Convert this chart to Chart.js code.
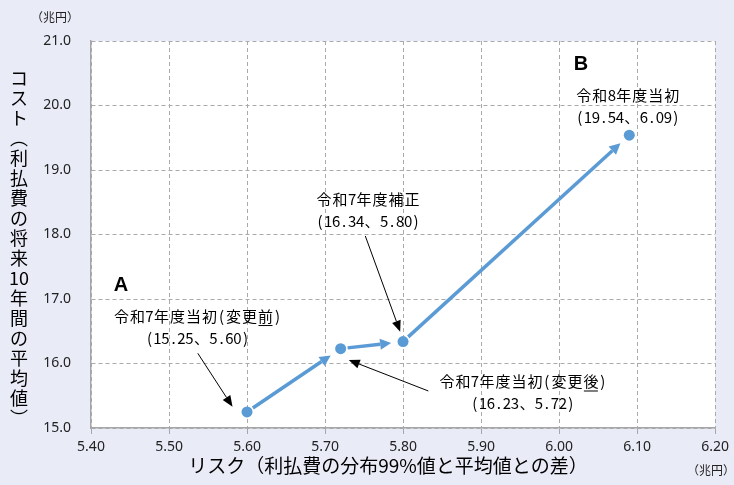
<!DOCTYPE html>
<html>
<head>
<meta charset="utf-8">
<script src="https://cdn.jsdelivr.net/npm/chart.js@4.4.1/dist/chart.umd.min.js"></script>
<style>
  html, body { margin: 0; padding: 0; background: #e9ebf7; }
  #wrap { width: 734px; height: 485px; }
</style>
</head>
<body>
<div id="wrap"><canvas id="c" width="734" height="485"></canvas></div>
<script>
// データ
const xTickLabels = ['5.40', '5.50', '5.60', '5.70', '5.80', '5.90', '6.00', '6.10', '6.20'];
const yTickLabels = ['15.0', '16.0', '17.0', '18.0', '19.0', '20.0', '21.0'];
const pointNames = ['令和7年度当初(変更前)', '令和7年度当初(変更後)', '令和7年度補正', '令和8年度当初'];
const riskValues = [5.60, 5.72, 5.80, 6.09];
const costValues = [15.25, 16.23, 16.34, 19.54];

const xTitle = 'リスク（利払費の分布99%値と平均値との差）';
const yTitle = 'コスト（利払費の将来10年間の平均値）';
const unitLabel = '（兆円）';

// 注記の位置（データ座標）
const notes = [
  { idx: 0, at: [5.5365, 16.736], from: [5.5369, 16.158], to: [5.5814, 15.330], underline: '前' },
  { idx: 1, at: [5.9536, 15.721], from: [5.8324, 15.574], to: [5.7304, 16.054], underline: '後' },
  { idx: 2, at: [5.7552, 18.550], from: [5.7516, 17.977], to: [5.7963, 16.493] },
  { idx: 3, at: [6.0881, 20.155] }
];
const groupMarks = [
  { text: 'A', at: [5.4383, 17.209] },
  { text: 'B', at: [6.028, 20.636] }
];

const BLUE = '#5b9bd5';
const JP = '"Noto Sans CJK JP", "Noto Sans", sans-serif';

// 等幅っぽく1文字ずつ描く（半角8px / 全角16px）
function drawMono(ctx, text, cx, cy, underlineChar) {
  const chars = Array.from(text);
  const adv = chars.map(ch => ch.charCodeAt(0) < 128 ? 8 : 16);
  const total = adv.reduce((a, b) => a + b, 0);
  let x = cx - total / 2;
  ctx.font = '15px ' + JP;
  ctx.textAlign = 'center';
  ctx.textBaseline = 'middle';
  ctx.fillStyle = '#000';
  chars.forEach((ch, i) => {
    ctx.fillText(ch, x + adv[i] / 2, cy);
    if (underlineChar && ch === underlineChar) {
      ctx.fillRect(x + 1, cy + 9, adv[i] - 2, 1);
    }
    x += adv[i];
  });
}

function arrow(ctx, x1, y1, x2, y2, color, width, headLen, headW) {
  const ang = Math.atan2(y2 - y1, x2 - x1);
  const bx = x2 - headLen * Math.cos(ang), by = y2 - headLen * Math.sin(ang);
  ctx.strokeStyle = color;
  ctx.fillStyle = color;
  ctx.lineWidth = width;
  ctx.setLineDash([]);
  ctx.beginPath();
  ctx.moveTo(x1, y1);
  ctx.lineTo(bx, by);
  ctx.stroke();
  ctx.beginPath();
  ctx.moveTo(x2, y2);
  ctx.lineTo(bx + headW / 2 * Math.sin(ang), by - headW / 2 * Math.cos(ang));
  ctx.lineTo(bx - headW / 2 * Math.sin(ang), by + headW / 2 * Math.cos(ang));
  ctx.closePath();
  ctx.fill();
}

const decorPlugin = {
  id: 'decor',
  beforeDraw(chart) {
    const { ctx, chartArea: a } = chart;
    ctx.save();
    ctx.fillStyle = '#e9ebf7';
    ctx.fillRect(0, 0, chart.width, chart.height);
    ctx.fillStyle = '#ffffff';
    ctx.fillRect(a.left, a.top, a.right - a.left, a.bottom - a.top);
    ctx.restore();
  },
  beforeDatasetsDraw(chart) {
    // 点と点を結ぶ青い矢印
    const { ctx, scales: { x, y } } = chart;
    ctx.save();
    for (let i = 0; i < riskValues.length - 1; i++) {
      const x1 = x.getPixelForValue(riskValues[i]), y1 = y.getPixelForValue(costValues[i]);
      const x2 = x.getPixelForValue(riskValues[i + 1]), y2 = y.getPixelForValue(costValues[i + 1]);
      const len = Math.hypot(x2 - x1, y2 - y1);
      const ux = (x2 - x1) / len, uy = (y2 - y1) / len;
      arrow(ctx, x1 + ux * 7, y1 + uy * 7, x2 - ux * 12, y2 - uy * 12, BLUE, 3.5, 11, 11);
    }
    ctx.restore();
  },
  afterDraw(chart) {
    const { ctx, scales: { x, y } } = chart;
    ctx.save();
    // 注記
    notes.forEach(n => {
      const cx = x.getPixelForValue(n.at[0]), cy = y.getPixelForValue(n.at[1]);
      drawMono(ctx, pointNames[n.idx], cx, cy, n.underline);
      const sub = '(' + costValues[n.idx].toFixed(2) + '、' + riskValues[n.idx].toFixed(2) + ')';
      drawMono(ctx, sub, cx, cy + 22);
      if (n.from) {
        arrow(ctx, x.getPixelForValue(n.from[0]), y.getPixelForValue(n.from[1]),
          x.getPixelForValue(n.to[0]), y.getPixelForValue(n.to[1]), '#000', 1, 11, 9);
      }
    });
    groupMarks.forEach(g => {
      ctx.font = 'bold 20px "Liberation Sans", Arial, sans-serif';
      ctx.fillStyle = '#000';
      ctx.textAlign = 'center';
      ctx.textBaseline = 'middle';
      ctx.fillText(g.text, x.getPixelForValue(g.at[0]), y.getPixelForValue(g.at[1]));
    });

    // 軸タイトル
    ctx.fillStyle = '#000';
    ctx.font = '19px ' + JP;
    ctx.textAlign = 'center';
    ctx.textBaseline = 'middle';
    ctx.fillText(xTitle, 388, 466);

    const vChars = yTitle.replace('（', '︵').replace('）', '︶').match(/\d+|./g);
    ctx.font = '18px ' + JP;
    vChars.forEach((ch, i) => {
      ctx.fillText(ch, 19, 78 + i * 20);
    });

    ctx.font = '12px ' + JP;
    ctx.fillStyle = '#222';
    ctx.fillText(unitLabel, 55, 17);
    ctx.fillText(unitLabel, 711, 470);
    ctx.restore();
  }
};

const gridDash = [4, 3];

new Chart(document.getElementById('c'), {
  type: 'scatter',
  data: {
    datasets: [{
      data: riskValues.map((r, i) => ({ x: r, y: costValues[i] })),
      backgroundColor: BLUE,
      borderColor: BLUE,
      pointRadius: 5.5,
      pointHoverRadius: 5.5,
      pointBorderWidth: 0,
      showLine: false
    }]
  },
  options: {
    responsive: false,
    animation: false,
    layout: { padding: { left: 0, top: 41, right: 15, bottom: 0 } },
    plugins: { legend: { display: false }, tooltip: { enabled: false } },
    scales: {
      x: {
        min: 5.4,
        max: 6.2,
        afterFit: s => { s.height = 57; },
        ticks: {
          stepSize: 0.1,
          padding: 5,
          color: '#222',
          font: { family: '"Noto Sans", sans-serif', size: 14 },
          callback: (v, i) => xTickLabels[i]
        },
        grid: {
          color: '#aaaaaa',
          lineWidth: 1,
          drawTicks: true,
          tickLength: 6,
          tickColor: '#a6a6a6',
          tickBorderDash: []
        },
        border: { display: true, color: '#a6a6a6', width: 1.5, dash: gridDash }
      },
      y: {
        min: 15,
        max: 21,
        afterFit: s => { s.width = 91; },
        ticks: {
          stepSize: 1,
          padding: 20,
          color: '#222',
          font: { family: '"Noto Sans", sans-serif', size: 14 },
          callback: (v, i) => yTickLabels[i]
        },
        grid: {
          color: '#aaaaaa',
          lineWidth: 1,
          drawTicks: false
        },
        border: { display: true, color: '#a6a6a6', width: 1.5, dash: gridDash }
      }
    }
  },
  plugins: [decorPlugin]
});
</script>
</body>
</html>
